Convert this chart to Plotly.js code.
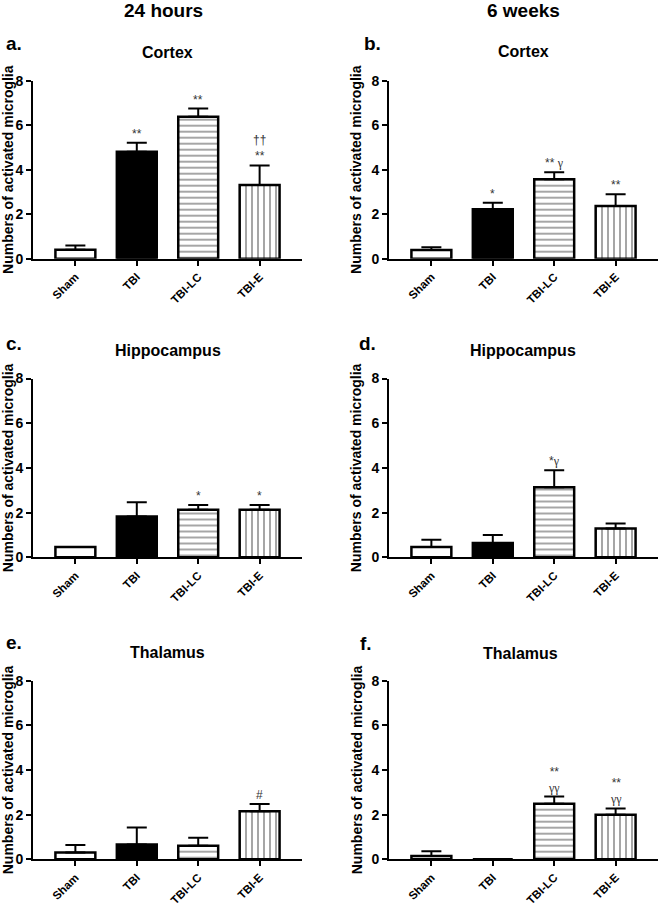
<!DOCTYPE html>
<html>
<head>
<meta charset="utf-8">
<script src="https://cdn.plot.ly/plotly-3.0.1.min.js"></script>
<style>html,body{margin:0;padding:0;background:#fff;}#chart{width:660px;height:906px;}</style>
</head>
<body>
<div id="chart"></div>
<script>
// ---- data ----
const categories = ['Sham', 'TBI', 'TBI-LC', 'TBI-E'];

const cortex24h = [0.40, 4.81, 6.38, 3.31];
const cortex24hErr = [0.19, 0.40, 0.37, 0.88];
const cortex6w = [0.39, 2.22, 3.57, 2.37];
const cortex6wErr = [0.13, 0.29, 0.31, 0.53];
const hippo24h = [0.46, 1.82, 2.13, 2.13];
const hippo24hErr = [0.0, 0.64, 0.21, 0.21];
const hippo6w = [0.46, 0.64, 3.13, 1.29];
const hippo6wErr = [0.33, 0.36, 0.76, 0.22];
const thal24h = [0.31, 0.66, 0.61, 2.15];
const thal24hErr = [0.33, 0.77, 0.36, 0.33];
const thal6w = [0.15, 0.00, 2.49, 1.99];
const thal6wErr = [0.21, 0.00, 0.32, 0.29];

const columnTitles = ['24 hours', '6 weeks'];
const panelLetters = ['a.', 'b.', 'c.', 'd.', 'e.', 'f.'];
const regionTitles = ['Cortex', 'Cortex', 'Hippocampus', 'Hippocampus', 'Thalamus', 'Thalamus'];
const yTitle = 'Numbers of activated microglia';

const G = '<span style="font-family:\'Liberation Serif\'">γ</span>';
// significance marks per panel, per category
const marks = [
  ['', '**', '**', '††<br>**'],
  ['', '*', '** ' + G, '**'],
  ['', '', '*', '*'],
  ['', '', '*' + G, ''],
  ['', '', '', '#'],
  ['', '', '**<br>' + G + G, '**<br>' + G + G]
];

const panels = [
  [cortex24h, cortex24hErr], [cortex6w, cortex6wErr],
  [hippo24h, hippo24hErr], [hippo6w, hippo6wErr],
  [thal24h, thal24hErr], [thal6w, thal6wErr]
];

// bar styles per group
const fills = ['#ffffff', '#000000', '#ffffff', '#ffffff'];
const patterns = ['', '', '-', '|'];

// ---- layout geometry ----
const W = 660, H = 906;
const colDom = [[33 / W, 302 / W], [389 / W, 658 / W]];
const rowDom = [[1 - 258.7 / H, 1 - 80.7 / H], [1 - 557.3 / H, 1 - 378.5 / H], [1 - 859.3 / H, 1 - 680.7 / H]];
const FONT = 'Liberation Sans, Arial, sans-serif';

const data = [];
const layout = {
  width: W, height: H,
  margin: {l: 0, r: 0, t: 0, b: 0},
  paper_bgcolor: '#fff', plot_bgcolor: '#fff',
  showlegend: false, barmode: 'overlay',
  font: {family: FONT, color: '#000'},
  annotations: []
};

panels.forEach((p, i) => {
  const n = i + 1;
  const xa = 'x' + (n === 1 ? '' : n), ya = 'y' + (n === 1 ? '' : n);
  const col = i % 2, row = Math.floor(i / 2);
  categories.forEach((c, k) => {
    const marker = {color: fills[k], line: {color: '#000', width: 2.5}};
    if (patterns[k]) {
      marker.pattern = {shape: patterns[k], fgcolor: '#888888', bgcolor: '#ffffff', size: 6, solidity: 0.25};
    }
    data.push({
      type: 'bar', x: [c], y: [p[0][k]], xaxis: xa, yaxis: ya, width: 0.65, name: c,
      marker: marker,
      error_y: {type: 'data', symmetric: false, array: [p[1][k]], arrayminus: [0], visible: p[1][k] > 0,
                color: '#000', thickness: 2, width: 10}
    });
  });
  const xk = 'xaxis' + (n === 1 ? '' : n), yk = 'yaxis' + (n === 1 ? '' : n);
  layout[xk] = {
    domain: colDom[col], anchor: ya, type: 'category', categoryorder: 'array', categoryarray: categories,
    range: [-0.69, 3.69],
    showline: true, linecolor: '#000', linewidth: 2, ticks: 'outside', ticklen: 5, tickwidth: 2, tickcolor: '#000',
    tickangle: -45, tickfont: {family: FONT, size: 11.5, weight: 'bold', color: '#000'},
    showgrid: false, zeroline: false, fixedrange: true
  };
  layout[yk] = {
    domain: rowDom[row], anchor: xa, range: [0, 8], dtick: 2, tick0: 0,
    showline: true, linecolor: '#000', linewidth: 2, ticks: 'outside', ticklen: 5, tickwidth: 2, tickcolor: '#000',
    tickfont: {family: FONT, size: 14, weight: 'bold', color: '#000'},
    showgrid: false, zeroline: false, fixedrange: true,
    title: {text: yTitle, font: {family: FONT, size: 14, weight: 'bold', color: '#000'}, standoff: 6}
  };
  // significance annotations
  marks[i].forEach((m, k) => {
    if (!m) return;
    layout.annotations.push({
      xref: xa, yref: ya, x: categories[k], y: p[0][k] + p[1][k], yanchor: 'bottom', xanchor: 'center',
      text: m, showarrow: false, yshift: 0, font: {family: FONT, size: 12, color: '#333'}
    });
  });
});

// region titles
const regionX = [168, 523, 168, 523, 168, 520];
const regionY = [53, 52, 350, 350, 652, 653];
regionTitles.forEach((t, i) => {
  layout.annotations.push({xref: 'paper', yref: 'paper', x: regionX[i] / W, y: 1 - regionY[i] / H,
    xanchor: 'center', yanchor: 'middle', showarrow: false, text: t,
    font: {family: FONT, size: 16, weight: 'bold', color: '#000'}});
});
// panel letters
const letterX = [4, 362, 4, 357, 4, 358];
const letterY = [43, 43, 343, 343, 642, 643];
panelLetters.forEach((t, i) => {
  layout.annotations.push({xref: 'paper', yref: 'paper', x: letterX[i] / W, y: 1 - letterY[i] / H,
    xanchor: 'left', yanchor: 'middle', showarrow: false, text: t,
    font: {family: FONT, size: 19, weight: 'bold', color: '#000'}});
});
// column titles
const colTitleX = [163, 523];
columnTitles.forEach((t, i) => {
  layout.annotations.push({xref: 'paper', yref: 'paper', x: colTitleX[i] / W, y: 1 - 11 / H,
    xanchor: 'center', yanchor: 'middle', showarrow: false, text: t,
    font: {family: FONT, size: 19, weight: 'bold', color: '#000'}});
});

Plotly.newPlot('chart', data, layout, {staticPlot: true, displayModeBar: false});
</script>
</body>
</html>
